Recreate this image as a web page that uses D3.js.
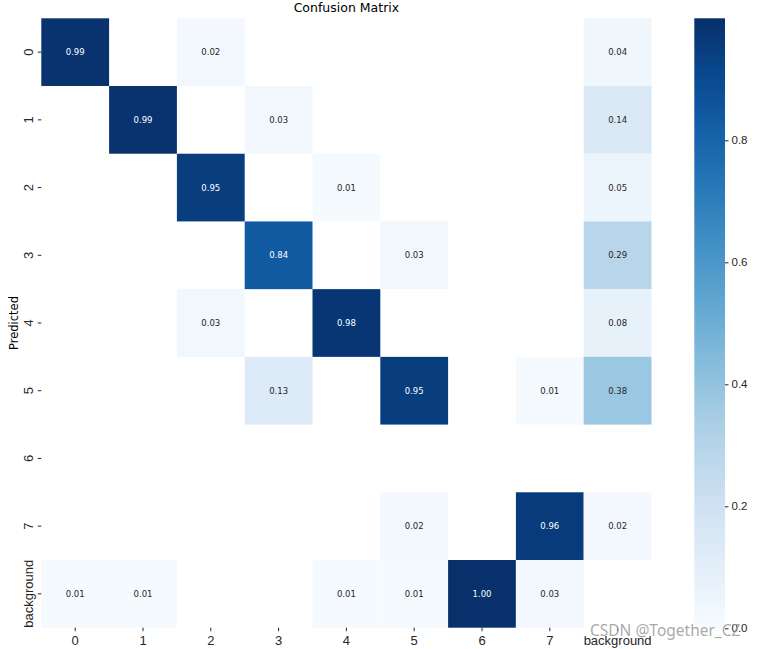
<!DOCTYPE html>
<html><head><meta charset="utf-8">
<script src="https://cdn.jsdelivr.net/npm/d3@7"></script>
<style>body{margin:0;background:#fff;} svg{display:block;font-family:"DejaVu Sans",sans-serif;}</style>
</head><body>
<svg id="c" width="761" height="649"></svg>
<script>
const labels = ["0","1","2","3","4","5","6","7","background"];
// rows = Predicted, columns = True; null = blank cell
const row0 = [0.99, null, 0.02, null, null, null, null, null, 0.04];
const row1 = [null, 0.99, null, 0.03, null, null, null, null, 0.14];
const row2 = [null, null, 0.95, null, 0.01, null, null, null, 0.05];
const row3 = [null, null, null, 0.84, null, 0.03, null, null, 0.29];
const row4 = [null, null, 0.03, null, 0.98, null, null, null, 0.08];
const row5 = [null, null, null, 0.13, null, 0.95, null, 0.01, 0.38];
const row6 = [null, null, null, null, null, null, null, null, null];
const row7 = [null, null, null, null, null, 0.02, null, 0.96, 0.02];
const rowBg = [0.01, 0.01, null, null, 0.01, 0.01, 1.00, 0.03, null];
const matrix = [row0,row1,row2,row3,row4,row5,row6,row7,rowBg];
const cbTicks = [0.0, 0.2, 0.4, 0.6, 0.8];

const svg = d3.select("#c");
const L = 41.3, T = 18.3, R = 651.5, B = 627.7;
const x = d3.scaleBand().domain(labels).range([L, R]);
const y = d3.scaleBand().domain(labels).range([T, B]);
const color = d3.scaleSequential(d3.interpolateBlues).domain([0, 1]);

const cells = [];
matrix.forEach((r, i) => r.forEach((v, j) => { if (v !== null) cells.push({r: labels[i], c: labels[j], v}); }));

svg.append("g").selectAll("rect").data(cells).join("rect")
  .attr("x", d => x(d.c)).attr("y", d => y(d.r))
  .attr("width", x.bandwidth()).attr("height", y.bandwidth())
  .attr("fill", d => color(d.v));

function lum(c) {
  const rgb = d3.rgb(c);
  const f = v => { v /= 255; return v <= 0.03928 ? v / 12.92 : Math.pow((v + 0.055) / 1.055, 2.4); };
  return 0.2126 * f(rgb.r) + 0.7152 * f(rgb.g) + 0.0722 * f(rgb.b);
}
svg.append("g").selectAll("text").data(cells).join("text")
  .attr("x", d => x(d.c) + x.bandwidth() / 2)
  .attr("y", d => y(d.r) + y.bandwidth() / 2)
  .attr("text-anchor", "middle").attr("dominant-baseline", "central")
  .attr("font-size", 8.5)
  .attr("fill", d => lum(color(d.v)) > 0.408 ? "#262626" : "#ffffff")
  .text(d => d.v.toFixed(2));

// axes
const xAxis = svg.append("g").attr("transform", `translate(0,${B})`)
  .call(d3.axisBottom(x).tickSize(3.5).tickPadding(4.5));
xAxis.select(".domain").remove();
xAxis.selectAll("text").attr("font-size", 13).attr("fill", "#262626");
xAxis.selectAll("line").attr("stroke", "#262626");

const yAxis = svg.append("g").attr("transform", `translate(${L},0)`)
  .call(d3.axisLeft(y).tickSize(3.5).tickPadding(2));
yAxis.select(".domain").remove();
yAxis.selectAll("line").attr("stroke", "#262626");
yAxis.selectAll("text").attr("font-size", 13).attr("fill", "#262626")
  .attr("text-anchor", "middle").attr("dy", null)
  .attr("x", null)
  .attr("transform", "translate(-12.5,0) rotate(-90)")
  .attr("dominant-baseline", "central");

svg.append("text").attr("x", (L + R) / 2).attr("y", 12).attr("text-anchor", "middle")
  .attr("font-size", 12.5).attr("fill", "#000").text("Confusion Matrix");
svg.append("text").attr("transform", `translate(18,${(T + B) / 2}) rotate(-90)`)
  .attr("text-anchor", "middle").attr("font-size", 11.5).attr("fill", "#000").text("Predicted");

// colorbar
const cbX = 694.3, cbW = 30.7;
const cy = d3.scaleLinear().domain([0, 1]).range([628.3, T]);
const defs = svg.append("defs");
const grad = defs.append("linearGradient").attr("id", "g").attr("x1", 0).attr("y1", 1).attr("x2", 0).attr("y2", 0);
d3.range(0, 1.0001, 0.05).forEach(t => grad.append("stop").attr("offset", t).attr("stop-color", color(t)));
svg.append("rect").attr("x", cbX).attr("y", T).attr("width", cbW).attr("height", cy(0) - T).attr("fill", "url(#g)");
const cAxis = svg.append("g").attr("transform", `translate(${cbX + cbW},0)`)
  .call(d3.axisRight(cy).tickValues(cbTicks).tickFormat(d3.format(".1f")).tickSize(3.5).tickPadding(3));
cAxis.select(".domain").remove();
cAxis.selectAll("text").attr("font-size", 11.5).attr("fill", "#262626");
cAxis.selectAll("line").attr("stroke", "#262626");

// watermark
svg.append("text").attr("x", 590).attr("y", 636).attr("font-size", 15.5)
  .attr("font-family", "'Noto Sans', sans-serif")
  .attr("fill", "#999").attr("fill-opacity", 0.85).text("CSDN @Together_CZ");
</script>
</body></html>
